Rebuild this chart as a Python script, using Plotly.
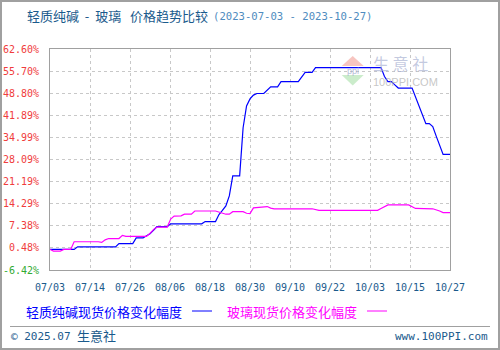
import plotly.graph_objects as go
from datetime import datetime, timedelta

# ---------------- data ----------------
soda_dates = ["2023-07-03","2023-07-10","2023-07-11","2023-07-22","2023-07-23","2023-07-27","2023-07-28",
              "2023-07-30","2023-07-31","2023-08-01","2023-08-02","2023-08-03","2023-08-06","2023-08-07",
              "2023-08-16","2023-08-17","2023-08-20","2023-08-21","2023-08-22","2023-08-23","2023-08-24",
              "2023-08-25","2023-08-27","2023-08-28","2023-08-29","2023-08-30","2023-08-31","2023-09-01",
              "2023-09-03","2023-09-04","2023-09-05","2023-09-07","2023-09-08","2023-09-13","2023-09-14",
              "2023-09-15","2023-09-17","2023-09-18","2023-10-07","2023-10-08","2023-10-09","2023-10-10",
              "2023-10-11","2023-10-12","2023-10-16","2023-10-17","2023-10-18","2023-10-19","2023-10-20",
              "2023-10-21","2023-10-22","2023-10-23","2023-10-24","2023-10-25","2023-10-27"]
soda_values = [0.0, 0.0, 0.8, 0.8, 1.8, 1.8, 3.6,
               3.6, 4.3, 4.9, 6.0, 7.1, 7.1, 8.0,
               8.0, 8.7, 8.7, 10.9, 12.2, 13.6, 16.7,
               23.0, 23.0, 38.0, 44.8, 47.0, 48.2, 48.7,
               48.7, 49.8, 50.8, 50.8, 52.4, 52.4, 54.0,
               55.3, 55.3, 56.8, 56.8, 54.0, 52.4, 52.4,
               51.4, 50.4, 50.4, 47.5, 44.6, 42.0, 39.3,
               39.3, 38.4, 35.4, 32.4, 29.7, 29.7]

glass_dates = ["2023-07-03","2023-07-04","2023-07-06","2023-07-07","2023-07-09","2023-07-10","2023-07-17",
               "2023-07-18","2023-07-19","2023-07-20","2023-07-23","2023-07-24","2023-07-25","2023-07-31",
               "2023-08-01","2023-08-02","2023-08-03","2023-08-06","2023-08-07","2023-08-08","2023-08-10",
               "2023-08-11","2023-08-13","2023-08-14","2023-08-20","2023-08-21","2023-08-22","2023-08-23",
               "2023-08-24","2023-08-25","2023-08-28","2023-08-29","2023-08-30","2023-08-31","2023-09-04",
               "2023-09-05","2023-09-06","2023-09-17","2023-09-19","2023-10-06","2023-10-07","2023-10-09",
               "2023-10-15","2023-10-16","2023-10-17","2023-10-22","2023-10-23","2023-10-24","2023-10-25",
               "2023-10-27"]
glass_values = [0.0, -0.5, -0.5, 0.0, 0.0, 2.4, 2.4,
                2.2, 3.0, 3.4, 3.4, 4.4, 4.1, 4.1,
                5.0, 6.2, 7.0, 7.0, 9.5, 10.4, 10.5,
                11.0, 11.0, 12.0, 12.0, 11.6, 11.2, 11.0,
                11.0, 11.8, 11.8, 11.3, 11.2, 13.0, 13.4,
                12.9, 12.7, 12.7, 12.2, 12.2, 12.8, 13.9,
                13.9, 13.4, 12.8, 12.7, 12.4, 12.0, 11.5,
                11.5]

y_ticks = [-6.42, 0.48, 7.38, 14.29, 21.19, 28.09, 34.99, 41.89, 48.80, 55.70, 62.60]
x_tick_labels = ["07/03","07/14","07/26","08/06","08/18","08/30","09/10","09/22","10/03","10/15","10/27"]

soda_name = "轻质纯碱现货价格变化幅度"
glass_name = "玻璃现货价格变化幅度"
title_main = "轻质纯碱&nbsp;&nbsp;-&nbsp;&nbsp;玻璃&nbsp;&nbsp;&nbsp;价格趋势比较"
title_range = "(2023-07-03 - 2023-10-27)"

# ---------------- layout helpers ----------------
W, H = 500, 350
L, R, T, B = 50, 50, 49, 80
PW, PH = W - L - R, H - T - B

def px(x):
    return (x - L) / PW

def py(y):
    return (H - B - y) / PH

start = datetime(2023, 7, 3)
end = datetime(2023, 10, 27)
span_days = (end - start).days
x_tick_vals = [(start + timedelta(days=span_days * k / 10)).strftime("%Y-%m-%d %H:%M:%S") for k in range(11)]

def ylab(v):
    col = "#33aa33" if v < 0 else "#f03c3c"
    return f"<span style='color:{col}'>{v:.2f}%</span>"

CJK = "Noto Sans CJK SC"
MONO = "DejaVu Sans Mono"
BLUE = "#0000ff"
MAGENTA = "#ff00ff"
DARK = "#1a5a8c"

fig = go.Figure()
fig.add_trace(go.Scatter(x=soda_dates, y=soda_values, mode="lines", name=soda_name,
                         line=dict(color=BLUE, width=1.2)))
fig.add_trace(go.Scatter(x=glass_dates, y=glass_values, mode="lines", name=glass_name,
                         line=dict(color=MAGENTA, width=1.2)))

fig.update_layout(
    width=W, height=H,
    margin=dict(l=L, r=R, t=T, b=B),
    paper_bgcolor="white", plot_bgcolor="white",
    showlegend=False,
    xaxis=dict(
        type="date", range=[start.strftime("%Y-%m-%d"), end.strftime("%Y-%m-%d")],
        tickmode="array", tickvals=x_tick_vals, ticktext=x_tick_labels,
        showgrid=True, gridcolor="#c8c8c8", griddash="3px,3px", gridwidth=1,
        showline=True, linecolor="#a0a0a0", linewidth=1, mirror=True,
        ticks="", tickfont=dict(family=MONO, size=10, color=DARK),
        zeroline=False, ticklabelstandoff=8, automargin=False,
    ),
    yaxis=dict(
        range=[y_ticks[0], y_ticks[-1]],
        tickmode="array", tickvals=y_ticks, ticktext=[ylab(v) for v in y_ticks],
        showgrid=True, gridcolor="#c8c8c8", griddash="3px,3px", gridwidth=1,
        showline=True, linecolor="#a0a0a0", linewidth=1, mirror=True,
        ticks="", tickfont=dict(family=MONO, size=10, color="#f03c3c"),
        zeroline=False, ticklabelstandoff=8, automargin=False,
    ),
)

shapes = []
# outer border
shapes.append(dict(type="rect", xref="paper", yref="paper",
                   x0=px(1), x1=px(W - 1), y0=py(H - 1), y1=py(1),
                   line=dict(color="#a0a0a0", width=2), layer="below"))
# footer separator
shapes.append(dict(type="line", xref="paper", yref="paper",
                   x0=px(10), x1=px(490), y0=py(326.5), y1=py(326.5),
                   line=dict(color="#a0a0a0", width=1)))
# legend lines
shapes.append(dict(type="line", xref="paper", yref="paper",
                   x0=px(192), x1=px(212), y0=py(311), y1=py(311),
                   line=dict(color=BLUE, width=1)))
shapes.append(dict(type="line", xref="paper", yref="paper",
                   x0=px(367), x1=px(387), y0=py(311), y1=py(311),
                   line=dict(color=MAGENTA, width=1)))

# watermark triangles
def tri(xa, ya, xb, yb, xc, yc, col):
    path = f"M {px(xa)} {py(ya)} L {px(xb)} {py(yb)} L {px(xc)} {py(yc)} Z"
    return dict(type="path", xref="paper", yref="paper", path=path,
                fillcolor=col, line=dict(width=0), layer="below")
shapes.append(tri(352.7, 56, 341.7, 66, 363.7, 66, "rgba(240,150,140,0.55)"))
shapes.append(tri(341.7, 75, 363.7, 75, 352.7, 85.5, "rgba(160,220,160,0.55)"))
fig.update_layout(shapes=shapes)

ann = []
ann.append(dict(xref="paper", yref="paper", x=px(25), y=py(15), xanchor="left", yanchor="middle",
                showarrow=False, text=title_main,
                font=dict(family=CJK, size=13, color=DARK)))
ann.append(dict(xref="paper", yref="paper", x=px(211), y=py(15.5), xanchor="left", yanchor="middle",
                showarrow=False, text=title_range,
                font=dict(family=MONO, size=10.6, color="#4f8cc0")))
ann.append(dict(xref="paper", yref="paper", x=px(24), y=py(311), xanchor="left", yanchor="middle",
                showarrow=False, text=soda_name, font=dict(family=CJK, size=13, color=BLUE)))
ann.append(dict(xref="paper", yref="paper", x=px(225), y=py(311), xanchor="left", yanchor="middle",
                showarrow=False, text=glass_name, font=dict(family=CJK, size=13, color=MAGENTA)))
ann.append(dict(xref="paper", yref="paper", x=px(9), y=py(336), xanchor="left", yanchor="middle",
                showarrow=False, text="© 2025.07",
                font=dict(family=MONO, size=11, color=DARK)))
ann.append(dict(xref="paper", yref="paper", x=px(75), y=py(335.5), xanchor="left", yanchor="middle",
                showarrow=False, text="生意社",
                font=dict(family=CJK, size=13, color=DARK)))
ann.append(dict(xref="paper", yref="paper", x=px(490), y=py(336), xanchor="right", yanchor="middle",
                showarrow=False, text="www.100PPI.com",
                font=dict(family=MONO, size=11, color=DARK)))
# watermark text
ann.append(dict(xref="paper", yref="paper", x=px(371), y=py(63), xanchor="left", yanchor="middle",
                showarrow=False, text="生 意 社",
                font=dict(family=CJK, size=16, color="rgba(170,178,210,0.7)")))
ann.append(dict(xref="paper", yref="paper", x=px(371), y=py(82), xanchor="left", yanchor="middle",
                showarrow=False, text="100PPI.COM",
                font=dict(family="Liberation Sans", size=11, color="rgba(180,180,180,0.75)")))
ann.append(dict(xref="paper", yref="paper", x=px(352.7), y=py(70.5), xanchor="center", yanchor="middle",
                showarrow=False, text="ppi",
                font=dict(family="Liberation Sans", size=9, color="rgba(150,160,200,0.7)")))
fig.update_layout(annotations=ann)

fig.write_html("out.html")
